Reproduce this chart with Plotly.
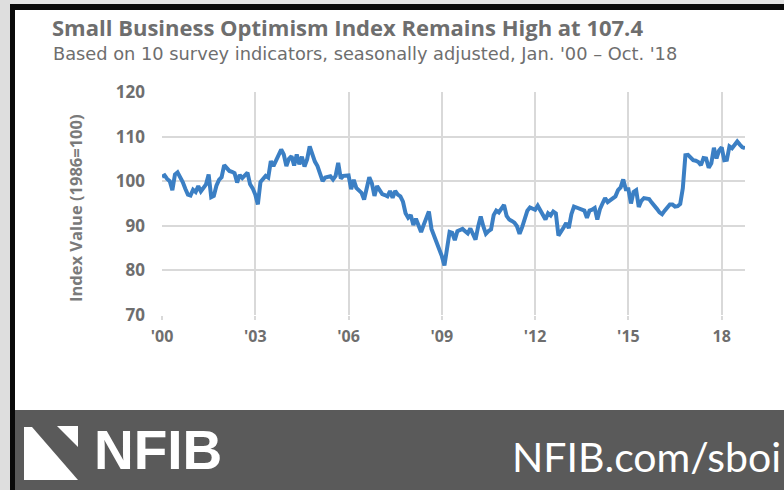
import plotly.graph_objects as go

# Small Business Optimism Index, monthly, Jan 2000 - Oct 2018 (1986=100)
index_2000 = [101.0, 101.3, 100.5, 100.0, 98.0, 101.5, 102.0, 101.0, 99.8, 98.3, 97.0, 96.8]
index_2001 = [98.1, 97.6, 98.9, 97.7, 98.6, 99.3, 101.5, 96.4, 96.7, 99.0, 100.3, 100.9]
index_2002 = [103.6, 102.8, 102.3, 102.1, 101.8, 99.7, 101.4, 100.7, 101.2, 101.9, 99.3, 98.4]
index_2003 = [97.0, 94.8, 99.8, 100.4, 101.2, 100.8, 104.5, 103.4, 104.6, 106.3, 107.1, 106.0]
index_2004 = [103.4, 105.0, 105.6, 103.5, 106.0, 103.8, 105.5, 103.3, 104.9, 107.8, 106.0, 104.4]
index_2005 = [103.4, 101.6, 100.0, 100.8, 101.0, 101.1, 100.4, 101.2, 104.1, 100.6, 101.2, 101.3]
index_2006 = [101.3, 98.2, 100.3, 98.5, 97.8, 97.4, 95.9, 98.6, 100.9, 99.5, 96.7, 98.9]
index_2007 = [97.8, 97.1, 96.9, 96.6, 97.8, 96.3, 97.8, 97.0, 96.6, 95.4, 92.8, 91.8]
index_2008 = [92.4, 90.2, 91.6, 89.8, 88.6, 90.2, 91.9, 93.2, 89.3, 87.8, 86.5, 84.8]
index_2009 = [83.2, 81.1, 85.0, 88.6, 88.4, 86.8, 88.8, 89.0, 89.3, 88.8, 88.3, 89.4]
index_2010 = [88.0, 86.9, 89.8, 92.1, 89.9, 88.2, 88.8, 89.2, 92.4, 93.4, 93.0, 93.8]
index_2011 = [94.7, 92.2, 91.4, 91.1, 90.7, 89.9, 88.2, 89.7, 91.9, 93.4, 94.1, 93.8]
index_2012 = [93.6, 94.5, 93.4, 92.5, 91.4, 92.8, 92.3, 93.2, 92.8, 87.8, 88.6, 89.6]
index_2013 = [90.6, 89.5, 92.6, 94.3, 94.1, 93.9, 93.7, 93.4, 91.8, 93.4, 93.6, 94.0]
index_2014 = [91.4, 93.7, 95.0, 96.2, 95.3, 95.7, 96.0, 96.6, 98.0, 98.6, 100.4, 98.2]
index_2015 = [98.2, 95.0, 97.6, 98.0, 94.2, 95.6, 96.2, 96.2, 96.0, 95.2, 94.6, 93.8]
index_2016 = [93.0, 92.6, 93.4, 94.3, 94.8, 94.8, 94.3, 94.4, 94.9, 98.4, 105.8, 105.9]
index_2017 = [105.2, 104.7, 104.6, 104.3, 103.6, 105.2, 105.1, 103.0, 104.0, 107.5, 105.1, 106.9]
index_2018 = [107.6, 104.7, 104.8, 107.8, 107.4, 108.0, 108.9, 108.2, 107.6, 107.4]

tick_years = [2000, 2003, 2006, 2009, 2012, 2015, 2018]
tick_labels = ["'00", "'03", "'06", "'09", "'12", "'15", "18"]
y_ticks = [70, 80, 90, 100, 110, 120]

values = (index_2000 + index_2001 + index_2002 + index_2003 + index_2004 + index_2005
          + index_2006 + index_2007 + index_2008 + index_2009 + index_2010 + index_2011
          + index_2012 + index_2013 + index_2014 + index_2015 + index_2016 + index_2017
          + index_2018)
months = list(range(len(values)))           # month number since Jan 2000
tick_months = [(y - 2000) * 12 for y in tick_years]

W, H = 784, 490


def px(x):
    return x / W


def py(y):
    return 1 - y / H


GRID = "#d9d9d9"
TEXT = "#6e6e6e"
FONT = "Open Sans"


def rect(x0, y0, x1, y1, color):
    return dict(type="rect", xref="paper", yref="paper",
                x0=px(x0), x1=px(x1), y0=py(y1), y1=py(y0),
                fillcolor=color, line=dict(width=0), layer="below")


def path(points):
    return "M " + " L ".join(f"{px(x):.5f},{py(y):.5f}" for x, y in points) + " Z"


fig = go.Figure()
fig.add_trace(go.Scatter(
    x=months, y=values, mode="lines",
    line=dict(color="#3b7fc4", width=4),
    hoverinfo="skip", showlegend=False,
))

shapes = [
    rect(0, 0, W, 4, "#e3e3e3"),        # light backdrop above the frame
    rect(0, 0, 10, H, "#dedede"),       # light backdrop left of the frame
    rect(10, 4, W, 10, "#0a0a0a"),      # top edge of the black frame
    rect(10, 4, 15, H, "#0a0a0a"),      # left edge of the black frame
    rect(15, 410, W, H, "#5a5a5a"),     # footer band
    # NFIB mark: two white triangles split by a diagonal band
    dict(type="path", xref="paper", yref="paper",
         path=path([(24, 427), (32, 427), (78, 480), (24, 480)]),
         fillcolor="white", line=dict(width=0), layer="above"),
    dict(type="path", xref="paper", yref="paper",
         path=path([(57, 426), (78, 426), (78, 447)]),
         fillcolor="white", line=dict(width=0), layer="above"),
]

annotations = [
    dict(text="<b>Small Business Optimism Index Remains High at 107.4</b>",
         x=px(50), y=py(27), xref="paper", yref="paper", xanchor="left", yanchor="middle",
         showarrow=False, font=dict(family=FONT, size=22, color=TEXT)),
    dict(text="Based on 10 survey indicators, seasonally adjusted, Jan. '00 \u2013 Oct. '18",
         x=px(51), y=py(54), xref="paper", yref="paper", xanchor="left", yanchor="middle",
         showarrow=False, font=dict(family="DejaVu Sans", size=17.8, color=TEXT)),
    dict(text="<b>Index Value (1986=100)</b>", textangle=-90,
         x=px(75), y=py(208), xref="paper", yref="paper", xanchor="center", yanchor="middle",
         showarrow=False, font=dict(family=FONT, size=16.5, color="#7a7a7a")),
    dict(text="<b>NFIB</b>",
         x=px(92), y=py(450), xref="paper", yref="paper", xanchor="left", yanchor="middle",
         showarrow=False, font=dict(family="Liberation Sans", size=55, color="white")),
    dict(text="NFIB.com/sboi",
         x=px(783), y=py(456), xref="paper", yref="paper", xanchor="right", yanchor="middle",
         showarrow=False, font=dict(family="Lato", size=41, color="white")),
]

fig.update_layout(
    width=W, height=H,
    margin=dict(l=0, r=0, t=0, b=0, autoexpand=False),
    paper_bgcolor="white",
    plot_bgcolor="rgba(0,0,0,0)",
    shapes=shapes,
    annotations=annotations,
    xaxis=dict(
        domain=[px(162), px(745)], range=[0, len(values) - 1],
        tickvals=tick_months, ticktext=tick_labels,
        showgrid=True, gridcolor=GRID, gridwidth=1.5,
        ticks="outside", ticklen=4, tickcolor=GRID, tickwidth=1.5,
        showline=False, zeroline=False, fixedrange=True, automargin=False,
        tickfont=dict(family=FONT, size=16, color=TEXT, weight="bold"),
        ticklabelstandoff=3,
    ),
    yaxis=dict(
        domain=[py(315), py(92)], range=[70, 120],
        tickvals=y_ticks,
        showgrid=True, gridcolor=GRID, gridwidth=1.5,
        ticks="", showline=False, zeroline=False, fixedrange=True, automargin=False,
        tickfont=dict(family=FONT, size=17, color=TEXT, weight="bold"),
        ticklabelstandoff=16,
    ),
)

# keep the page free of margins and scrollbars around the fixed-size figure
fig.write_html(
    "out.html",
    post_script=(
        "document.documentElement.style.overflow='hidden';"
        "document.body.style.margin='0px';"
        "document.body.style.overflow='hidden';"
    ),
)
